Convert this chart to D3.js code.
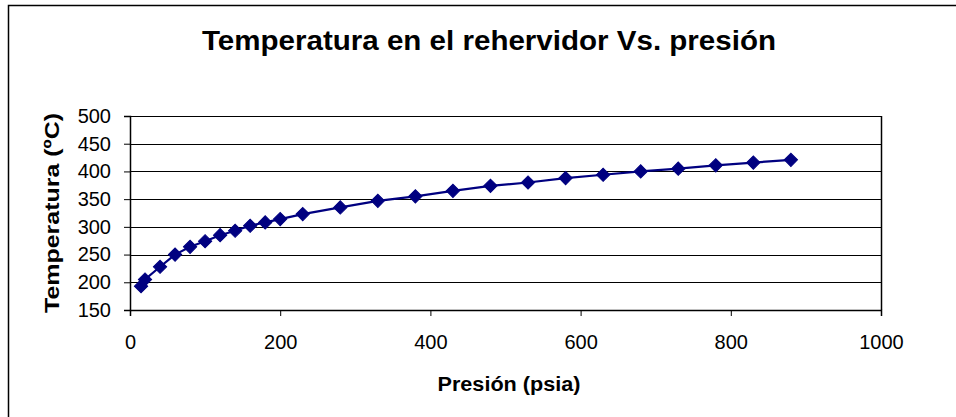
<!DOCTYPE html>
<html>
<head>
<meta charset="utf-8">
<script src="https://cdn.jsdelivr.net/npm/d3@7"></script>
<style>
  html, body { margin: 0; padding: 0; background: #fff; }
  svg { display: block; font-family: Arial, "Liberation Sans", sans-serif; }
</style>
</head>
<body>
<svg id="chart" width="956" height="417"></svg>
<script>
const presion = [14.7, 20, 40, 60, 80, 100, 120, 140, 160, 180, 200, 230, 280, 330, 380, 430, 480, 530, 580, 630, 680, 730, 780, 830, 880];
const temperatura = [193, 205, 228, 250, 264, 274, 285, 293, 302, 308, 314, 323, 335, 347, 355, 365, 374, 380, 388, 394, 400, 405, 411, 416, 421];
const xTicks = [0, 200, 400, 600, 800, 1000];
const yTicks = [150, 200, 250, 300, 350, 400, 450, 500];
const titleText = "Temperatura en el rehervidor Vs. presión";
const xTitle = "Presión (psia)";
const yTitle = "Temperatura (ºC)";

const svg = d3.select("#chart");
const plotLeft = 130, plotRight = 881, plotTop = 116, plotBottom = 310;

const x = d3.scaleLinear().domain([0, 1000]).range([plotLeft, plotRight]);
const y = d3.scaleLinear().domain([150, 500]).range([plotBottom, plotTop]);

// outer frame
svg.append("rect").attr("x", 8.5).attr("y", 5.5).attr("width", 980).attr("height", 440)
  .attr("fill", "none").attr("stroke", "#000").attr("stroke-width", 1.5);

// title
svg.append("text").attr("x", 489).attr("y", 50).attr("text-anchor", "middle")
  .attr("font-size", 27).attr("font-weight", "bold").attr("fill", "#000")
  .attr("textLength", 574).attr("lengthAdjust", "spacingAndGlyphs")
  .text(titleText);

// gridlines
svg.append("g").selectAll("line").data(yTicks.slice(1)).join("line")
  .attr("x1", plotLeft).attr("x2", plotRight)
  .attr("y1", d => Math.round(y(d)) + 0.5).attr("y2", d => Math.round(y(d)) + 0.5)
  .attr("stroke", "#000").attr("stroke-width", 1);

// right border
svg.append("line").attr("x1", plotRight + 0.5).attr("x2", plotRight + 0.5).attr("y1", plotTop).attr("y2", plotBottom)
  .attr("stroke", "#000").attr("stroke-width", 1.5);

// axes
const xAxis = d3.axisBottom(x).tickValues(xTicks).tickSize(6).tickFormat(d3.format("d"));
const gx = svg.append("g").attr("transform", `translate(0,${plotBottom})`).call(xAxis);
gx.select(".domain").attr("stroke", "#000").attr("stroke-width", 1.5);
gx.selectAll(".tick line").attr("stroke", "#000");
gx.selectAll(".tick text").attr("font-size", 20).attr("font-family", "Arial, 'Liberation Sans', sans-serif")
  .attr("fill", "#000").attr("dy", null).attr("y", 39);

const yAxis = d3.axisLeft(y).tickValues(yTicks).tickSize(6).tickFormat(d3.format("d"));
const gy = svg.append("g").attr("transform", `translate(${plotLeft},0)`).call(yAxis);
gy.select(".domain").attr("stroke", "#000").attr("stroke-width", 1.5);
gy.selectAll(".tick line").attr("stroke", "#000");
gy.selectAll(".tick text").attr("font-size", 20).attr("font-family", "Arial, 'Liberation Sans', sans-serif")
  .attr("fill", "#000").attr("x", -19);

// axis titles
svg.append("text").attr("x", 509).attr("y", 391).attr("text-anchor", "middle")
  .attr("font-size", 20).attr("font-weight", "bold").attr("fill", "#000")
  .attr("textLength", 143).attr("lengthAdjust", "spacingAndGlyphs")
  .text(xTitle);

svg.append("text").attr("transform", "translate(59,213) rotate(-90)").attr("text-anchor", "middle")
  .attr("font-size", 20).attr("font-weight", "bold").attr("fill", "#000")
  .attr("textLength", 200).attr("lengthAdjust", "spacingAndGlyphs")
  .text(yTitle);

// series line
const data = presion.map((p, i) => ({ p, t: temperatura[i] }));
svg.append("path").datum(data)
  .attr("fill", "none").attr("stroke", "#000080").attr("stroke-width", 2.2)
  .attr("d", d3.line().x(d => x(d.p)).y(d => y(d.t)));

// markers
const sym = d3.symbol().type(d3.symbolSquare).size(88);
svg.append("g").selectAll("path").data(data).join("path")
  .attr("transform", d => `translate(${x(d.p)},${y(d.t)}) rotate(45)`)
  .attr("d", sym).attr("fill", "#000080").attr("stroke", "#000080").attr("stroke-width", 1);
</script>
</body>
</html>
